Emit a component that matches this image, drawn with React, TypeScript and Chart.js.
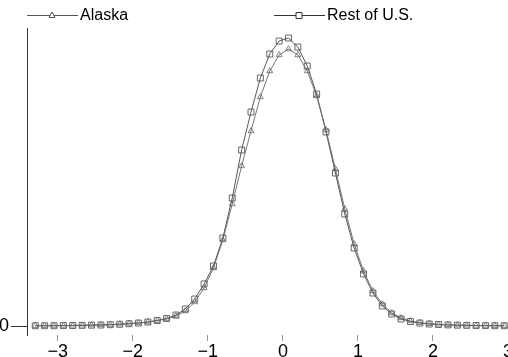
import React, { useEffect, useRef } from "react";
import { Chart, registerables } from "chart.js";

Chart.register(...registerables);

const xValues = [
  -3.3, -3.175, -3.05, -2.925, -2.8, -2.675, -2.55, -2.425, -2.3, -2.175, -2.05,
  -1.925, -1.8, -1.675, -1.55, -1.425, -1.3, -1.175, -1.05, -0.925, -0.8,
  -0.675, -0.55, -0.425, -0.3, -0.175, -0.05, 0.075, 0.2, 0.325, 0.45,
  0.575, 0.7, 0.825, 0.95, 1.075, 1.2, 1.325, 1.45, 1.575, 1.7,
  1.825, 1.95, 2.075, 2.2, 2.325, 2.45, 2.575, 2.7, 2.825, 2.95,
];

const alaska = [
  0.0004, 0.0004, 0.0006, 0.0007, 0.0009, 0.001, 0.0013, 0.0016, 0.002, 0.0026, 0.0035,
  0.0045, 0.0058, 0.0077, 0.0101, 0.0145, 0.0217, 0.0348, 0.0551, 0.0841, 0.1246,
  0.1768, 0.2319, 0.2826, 0.3319, 0.3696, 0.3928, 0.4014, 0.3928, 0.3696, 0.3333,
  0.2841, 0.2275, 0.1696, 0.1188, 0.0797, 0.0507, 0.0319, 0.0188, 0.0116, 0.0072,
  0.0048, 0.0032, 0.0023, 0.0017, 0.0013, 0.001, 0.0007, 0.0006, 0.0004, 0.0004,
];

const restOfUS = [
  0.0004, 0.0004, 0.0004, 0.0006, 0.0007, 0.0009, 0.0012, 0.0014, 0.0019, 0.0025, 0.0033,
  0.0043, 0.0058, 0.008, 0.0109, 0.0159, 0.0246, 0.0391, 0.0609, 0.087, 0.1275,
  0.1855, 0.2551, 0.3101, 0.3594, 0.3942, 0.413, 0.4174, 0.4043, 0.3768, 0.3362,
  0.2812, 0.2217, 0.1623, 0.113, 0.0754, 0.0478, 0.029, 0.0174, 0.0101, 0.0065,
  0.0043, 0.0029, 0.0022, 0.0016, 0.0012, 0.0009, 0.0007, 0.0006, 0.0004, 0.0004,
];

const seriesNames = ["Alaska", "Rest of U.S."];
const xTicks = [-3, -2, -1, 0, 1, 2, 3];
const yTicks = [0];

const FONT = "'Liberation Sans', Arial, Helvetica, sans-serif";

const legendPlugin = {
  id: "customLegend",
  afterDraw(chart: any) {
    const ctx = chart.ctx;
    ctx.save();
    const items = [
      { x0: 27, x1: 78, mx: 52, style: "triangle", color: "#555", label: seriesNames[0], tx: 80 },
      { x0: 274, x1: 325, mx: 299, style: "rect", color: "#333", label: seriesNames[1], tx: 327 },
    ];
    const y = 15;
    for (const it of items) {
      ctx.strokeStyle = it.color;
      ctx.lineWidth = 1;
      ctx.beginPath();
      ctx.moveTo(it.x0, y + 0.5);
      ctx.lineTo(it.x1, y + 0.5);
      ctx.stroke();
      ctx.fillStyle = "#fff";
      ctx.beginPath();
      if (it.style === "triangle") {
        ctx.moveTo(it.mx, y - 3);
        ctx.lineTo(it.mx + 3, y + 2.5);
        ctx.lineTo(it.mx - 3, y + 2.5);
        ctx.closePath();
      } else {
        ctx.rect(it.mx - 3, y - 2.5, 6, 6);
      }
      ctx.fill();
      ctx.stroke();
      ctx.fillStyle = "#000";
      ctx.font = `16px ${FONT}`;
      ctx.textBaseline = "middle";
      ctx.textAlign = "left";
      ctx.fillText(it.label, it.tx, y + 1);
    }
    ctx.restore();
  },
};

export default function App() {
  const canvasRef = useRef<HTMLCanvasElement | null>(null);

  useEffect(() => {
    if (!canvasRef.current) return;
    const chart = new Chart(canvasRef.current, {
      type: "line",
      data: {
        datasets: [
          {
            label: seriesNames[0],
            data: xValues.map((x, i) => ({ x, y: alaska[i] })),
            borderColor: "#666",
            borderWidth: 0.9,
            pointStyle: "triangle",
            pointRadius: 3.4,
            pointBorderWidth: 0.8,
            pointBorderColor: "#666",
            pointBackgroundColor: "rgba(255,255,255,0)",
            tension: 0,
            clip: 8,
          },
          {
            label: seriesNames[1],
            data: xValues.map((x, i) => ({ x, y: restOfUS[i] })),
            borderColor: "#444",
            borderWidth: 0.9,
            pointStyle: "rect",
            pointRadius: 4.2,
            pointBorderWidth: 0.8,
            pointBorderColor: "#444",
            pointBackgroundColor: "rgba(255,255,255,0)",
            tension: 0,
            clip: 8,
          },
        ],
      },
      options: {
        animation: false,
        responsive: false,
        maintainAspectRatio: false,
        layout: { autoPadding: false, padding: { top: 28, left: 0, right: 0, bottom: 0 } },
        plugins: { legend: { display: false }, tooltip: { enabled: false } },
        scales: {
          x: {
            type: "linear",
            min: -3.41,
            max: 3.0,
            afterBuildTicks: (scale: any) => {
              scale.ticks = xTicks.map((v) => ({ value: v }));
            },
            afterFit: (scale: any) => {
              scale.height = 22;
              scale.paddingLeft = 0;
              scale.paddingRight = 0;
            },
            grid: {
              drawOnChartArea: false,
              drawTicks: true,
              tickLength: 6,
              color: "#999",
              lineWidth: 1,
            },
            border: { display: false },
            ticks: {
              autoSkip: false,
              maxRotation: 0,
              padding: 0,
              color: "#000",
              font: { family: FONT, size: 18 },
              callback: (v: any) => String(v).replace("-", "\u2212"),
            },
          },
          y: {
            type: "linear",
            min: -0.01304,
            max: 0.4319,
            afterBuildTicks: (scale: any) => {
              scale.ticks = yTicks.map((v) => ({ value: v }));
            },
            afterFit: (scale: any) => {
              scale.width = 27;
              scale.paddingTop = 0;
              scale.paddingBottom = 0;
            },
            grid: {
              drawOnChartArea: false,
              drawTicks: true,
              tickLength: 16,
              color: "#333",
              lineWidth: 1,
            },
            border: { display: true, color: "#333", width: 1 },
            ticks: {
              padding: 2,
              color: "#000",
              font: { family: FONT, size: 18 },
            },
          },
        },
      },
      plugins: [legendPlugin],
    });
    return () => chart.destroy();
  }, []);

  return (
    <div style={{ position: "fixed", left: 0, top: 0, width: 508, height: 357, background: "#fff" }}>
      <canvas ref={canvasRef} width={508} height={357} style={{ display: "block" }} />
    </div>
  );
}
